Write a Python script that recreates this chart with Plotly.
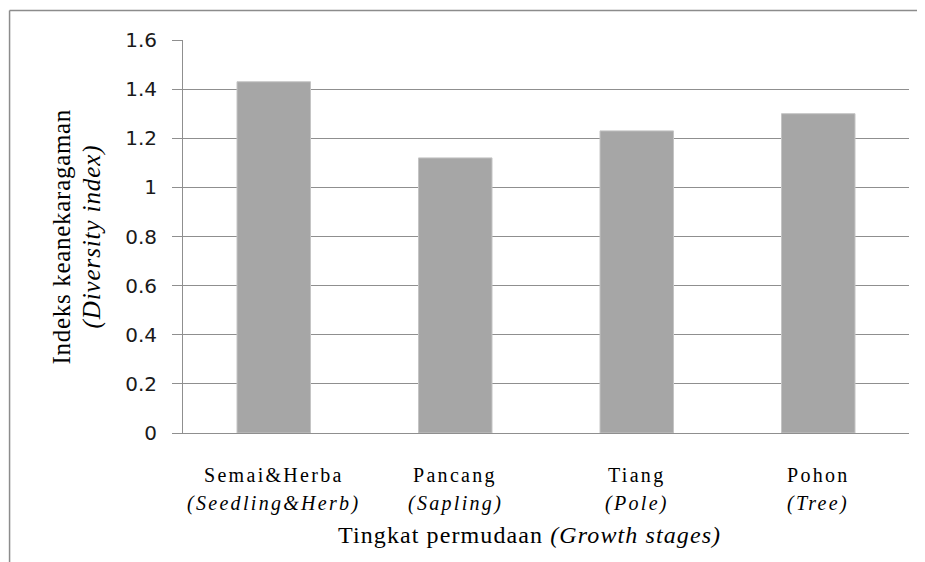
import plotly.graph_objects as go

# ---- data ----
categories = ["Semai&Herba", "Pancang", "Tiang", "Pohon"]
categories_en = ["(Seedling&Herb)", "(Sapling)", "(Pole)", "(Tree)"]
diversity_index = [1.43, 1.12, 1.23, 1.30]
y_tick_values = [0, 0.2, 0.4, 0.6, 0.8, 1.0, 1.2, 1.4, 1.6]
y_tick_labels = ["0", "0.2", "0.4", "0.6", "0.8", "1", "1.2", "1.4", "1.6"]
x_title_id = "Tingkat permudaan"
x_title_en = "(Growth stages)"
y_title_id = "Indeks keanekaragaman"
y_title_en = "(Diversity index)"

GRID = "#8f8f8f"
BAR = "#a6a6a6"
SERIF = "Liberation Serif"

fig = go.Figure()
fig.add_trace(go.Bar(
    x=categories, y=diversity_index,
    marker=dict(color=BAR, line=dict(color="#c4c4c4", width=1)),
    hoverinfo="x+y",
))

annotations = []
for cat, en in zip(categories, categories_en):
    annotations.append(dict(
        x=cat, xref="x", y=0, yref="paper", yanchor="middle", yshift=-42,
        text=f"<span style='letter-spacing:2.3px'>{cat}</span>",
        showarrow=False, font=dict(family=SERIF, size=20, color="#000000"),
    ))
    annotations.append(dict(
        x=cat, xref="x", y=0, yref="paper", yanchor="middle", yshift=-70,
        text=f"<span style='letter-spacing:2.3px'><i>{en}</i></span>",
        showarrow=False, font=dict(family=SERIF, size=20, color="#000000"),
    ))

annotations.append(dict(
    x=0.4766, xref="paper", y=0, yref="paper", yanchor="middle", yshift=-102,
    text=f"<span style='letter-spacing:1.1px'>{x_title_id} <i>{x_title_en}</i></span>",
    showarrow=False, font=dict(family=SERIF, size=24, color="#000000"),
))
annotations.append(dict(
    x=-0.1667, xref="paper", y=0.5, yref="paper", xanchor="center", yanchor="middle",
    text=f"<span style='letter-spacing:0.7px'>{y_title_id}</span>", textangle=-90,
    showarrow=False, font=dict(family=SERIF, size=25, color="#000000"),
))
annotations.append(dict(
    x=-0.1267, xref="paper", y=0.5, yref="paper", xanchor="center", yanchor="middle",
    text=f"<span style='letter-spacing:0.9px'><i>{y_title_en}</i></span>", textangle=-90,
    showarrow=False, font=dict(family=SERIF, size=25, color="#000000"),
))

shapes = [
    # outer chart frame (left and top edges visible in the crop)
    dict(type="line", xref="paper", yref="paper", x0=-0.2389, x1=-0.2389, y0=1.0751, y1=-0.33,
         line=dict(color="#8c8c8c", width=1.5)),
    dict(type="line", xref="paper", yref="paper", x0=-0.2389, x1=1.03, y0=1.0751, y1=1.0751,
         line=dict(color="#8c8c8c", width=1.5)),
]

# the page body has an 8px default margin, so the figure is sized/offset to compensate
fig.update_layout(
    width=917, height=554,
    margin=dict(l=175, r=16, t=32, b=129),
    paper_bgcolor="white", plot_bgcolor="white",
    bargap=0.595,
    showlegend=False,
    annotations=annotations,
    shapes=shapes,
    xaxis=dict(
        type="category", showticklabels=False, showgrid=False, zeroline=False,
        showline=True, linecolor=GRID, linewidth=1, ticks="",
    ),
    yaxis=dict(
        range=[0, 1.6], tickvals=y_tick_values, ticktext=y_tick_labels,
        showgrid=True, gridcolor=GRID, gridwidth=1, zeroline=False,
        showline=True, linecolor=GRID, linewidth=1,
        ticks="outside", ticklen=10, tickcolor=GRID, tickwidth=1,
        ticklabelstandoff=11,
        tickfont=dict(family="DejaVu Sans", size=20, color="#1a1a1a"),
    ),
)

fig.write_html("out.html")
